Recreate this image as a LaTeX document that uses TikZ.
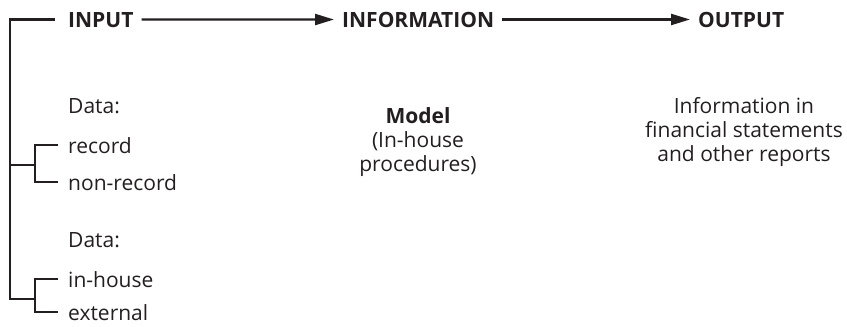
\documentclass[tikz,border=0pt]{standalone}
\usepackage{fontspec}
\setmainfont{Open Sans}
\usepackage{tikz}
\usetikzlibrary{arrows.meta,positioning}

\begin{document}
\begin{tikzpicture}[x=1pt,y=-1pt,
    head/.style={anchor=base west,inner xsep=8pt,inner ysep=0pt,font=\fontsize{21}{25}\selectfont\bfseries},
    item/.style={anchor=base west,inner xsep=10pt,inner ysep=0pt,font=\fontsize{21}{25}\selectfont},
    block/.style={anchor=north,inner sep=0pt,align=center,font=\fontsize{21}{24}\selectfont},
    bracket/.style={line width=2.3pt},
    flow/.style={line width=2.3pt,-{Triangle[length=19pt,width=11pt]}}]
    \definecolor{ink}{HTML}{231F20}
    \useasboundingbox (0,0) rectangle (847,327);

    \begin{scope}[color=ink,text=ink]
    \node[head] (input) at (60,27) {INPUT};
    \node[head] (information) at (334,27) {INFORMATION};
    \node[head] (output) at (690,27) {OUTPUT};

    \draw[flow] (input) -- (information);
    \draw[flow] (information) -- (output);

    % left side
    \node[item] (data1) at (58,113) {Data:};
    \node[item] (record) at (58,153) {record};
    \node[item] (nonrecord) at (58,190) {non-record};
    \node[item] (data2) at (58,247) {Data:};
    \node[item] (inhouse) at (58,287) {in-house};
    \node[item] (external) at (58,320) {external};

    \coordinate (j1) at (10,165);
    \coordinate (j2) at (10,299);
    \coordinate (k1) at (35,165);
    \coordinate (k2) at (35,299);

    \draw[bracket] ([xshift=-5pt]input.west) -| (j2) -- (k2);
    \draw[bracket] (j1) -- (k1);
    \draw[bracket] (record.west) -- ++(-23,0) |- (nonrecord.west);
    \draw[bracket] (inhouse.west) -- ++(-23,0) |- (external.west);

    % middle and right
    \node[block] (model) at (418,107) {\textbf{Model}\\(In-house\\procedures)};
    \node[block] (reports) at (744,97) {Information in\\financial statements\\and other reports};
    \end{scope}

\end{tikzpicture}
\end{document}
